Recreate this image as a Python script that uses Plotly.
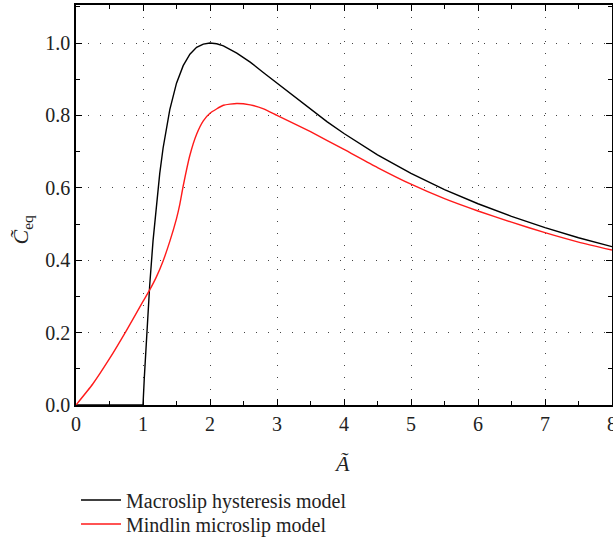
import plotly.graph_objects as go

# Amplitude values (x) and equivalent damping
macro_A = [0.0, 0.5, 1.0, 1.02, 1.05, 1.08, 1.1, 1.15, 1.2, 1.25, 1.3, 1.35, 1.4, 1.5, 1.6, 1.7, 1.8,
           1.9, 2.0, 2.1, 2.2, 2.4, 2.6, 2.8, 3.0, 3.25, 3.5, 3.75, 4.0, 4.5, 5.0, 5.5,
           6.0, 6.5, 7.0, 7.5, 8.0]
macro_C = [0.0, 0.0, 0.0, 0.077, 0.181, 0.274, 0.331, 0.454, 0.556, 0.64, 0.71, 0.768, 0.816, 0.889,
           0.9375, 0.969, 0.988, 0.997, 1.0, 0.998, 0.992, 0.972, 0.947, 0.918, 0.889,
           0.852, 0.816, 0.782, 0.75, 0.691, 0.64, 0.595, 0.556, 0.521, 0.49, 0.462, 0.4375]

mindlin_A = [0.0, 0.25, 0.5, 0.75, 1.0, 1.1, 1.2, 1.3, 1.4, 1.5, 1.55, 1.6, 1.7, 1.8, 1.9,
             2.0, 2.2, 2.4, 2.6, 2.8, 3.0, 3.5, 4.0, 4.5, 5.0, 5.5, 6.0, 6.5, 7.0, 7.5, 8.0]
mindlin_C = [0.0, 0.058, 0.128, 0.205, 0.286, 0.318, 0.354, 0.398, 0.452, 0.515, 0.555, 0.605,
             0.69, 0.748, 0.785, 0.806, 0.828, 0.833, 0.829, 0.818, 0.80, 0.755, 0.706,
             0.656, 0.61, 0.57, 0.536, 0.505, 0.476, 0.45, 0.428]

series_names = ["Macroslip hysteresis model", "Mindlin microslip model"]
series_colors = ["#000000", "#ff1a1a"]

x_ticks = [0, 1, 2, 3, 4, 5, 6, 7, 8]
y_ticks = [0.0, 0.2, 0.4, 0.6, 0.8, 1.0]
y_tick_text = ["0.0", "0.2", "0.4", "0.6", "0.8", "1.0"]

FONT = "Liberation Serif"

fig = go.Figure()
fig.add_trace(go.Scatter(x=macro_A, y=macro_C, mode="lines", name=series_names[0],
                         legend="legend",
                         line=dict(color=series_colors[0], width=1.4)))
fig.add_trace(go.Scatter(x=mindlin_A, y=mindlin_C, mode="lines", name=series_names[1],
                         legend="legend2",
                         line=dict(color=series_colors[1], width=1.4, shape="spline", smoothing=0.5)))

axis_common = dict(
    showline=True, linecolor="black", linewidth=1.5, mirror="ticks",
    ticks="inside", ticklen=6, tickwidth=1.3, tickcolor="black",
    showgrid=True, gridcolor="#444444", gridwidth=1.3, griddash="1px,11px",
    zeroline=False, tickfont=dict(family=FONT, size=20, color="#222"),
    ticklabeloverflow="allow",
)

fig.update_xaxes(range=[0, 8], tickvals=x_ticks,
                 minor=dict(dtick=0.5, ticks="inside", ticklen=4, tickcolor="black", showgrid=False),
                 **axis_common)
fig.update_yaxes(range=[0, 1.105], tickvals=y_ticks, ticktext=y_tick_text,
                 minor=dict(dtick=0.1, ticks="inside", ticklen=4, tickcolor="black", showgrid=False),
                 **axis_common)

fig.add_annotation(text="<i>C̃</i><sub>eq</sub>", xref="paper", yref="paper",
                   x=-0.1, y=0.44, xanchor="center", yanchor="middle",
                   showarrow=False, textangle=-90,
                   font=dict(family=FONT, size=22, color="#222"))
fig.add_annotation(text="<i>Ã</i>", xref="paper", yref="paper",
                   x=0.496, y=-0.145, xanchor="center", yanchor="middle", showarrow=False,
                   font=dict(family=FONT, size=22, color="#222"))

legend_style = dict(xref="container", yref="container", xanchor="left", yanchor="middle",
                    font=dict(family=FONT, size=20, color="#222"),
                    bgcolor="rgba(0,0,0,0)", itemwidth=40, borderwidth=0)

fig.update_layout(
    width=613, height=542,
    margin=dict(l=76, r=1, t=5, b=137, autoexpand=False),
    paper_bgcolor="white", plot_bgcolor="white",
    showlegend=True,
    legend=dict(x=0.124, y=(542 - 500) / 542, **legend_style),
    legend2=dict(x=0.124, y=(542 - 524) / 542, **legend_style),
)

fig.write_html("out.html", config={"displayModeBar": False},
               post_script="document.body.style.margin='0';")
